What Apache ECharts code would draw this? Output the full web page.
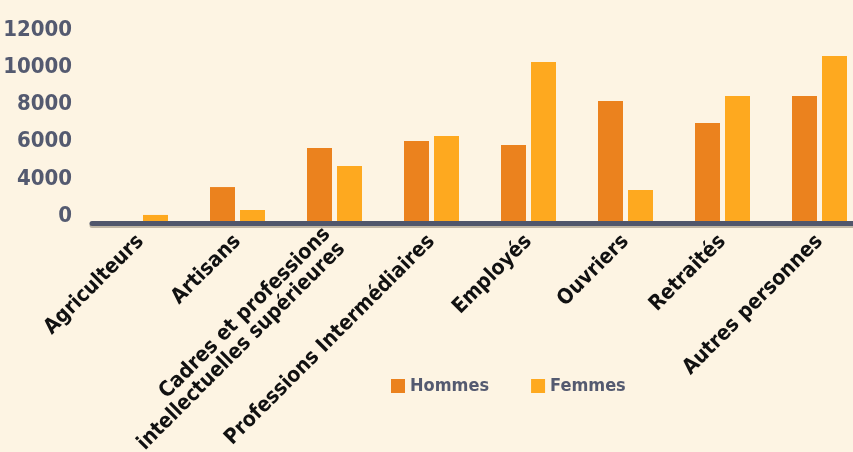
<!DOCTYPE html>
<html>
<head>
<meta charset="utf-8">
<script src="https://cdn.jsdelivr.net/npm/echarts@6/dist/echarts.min.js"></script>
<style>
html,body{margin:0;padding:0;background:#FDF4E3;}
#c{width:853px;height:452px;}
</style>
</head>
<body>
<div id="c"></div>
<script>
const categories = ['Agriculteurs', 'Artisans', 'Cadres et professions\nintellectuelles supérieures', 'Professions Intermédiaires', 'Employés', 'Ouvriers', 'Retraités', 'Autres personnes'];
const hommes = [0, 2190, 4710, 5160, 4900, 7740, 6320, 8060];
const femmes = [390, 710, 3550, 5480, 10260, 2000, 8060, 10650];
const yTickLabels = ['0', '4000', '6000', '8000', '10000', '12000'];
const seriesNames = ['Hommes', 'Femmes'];

const FONT = '"Liberation Sans Narrow", "DejaVu Sans Condensed", sans-serif';
const chart = echarts.init(document.getElementById('c'));
chart.setOption({
  backgroundColor: '#FDF4E3',
  animation: false,
  grid: { left: 92, right: -15, top: 35, height: 186, containLabel: false, outerBoundsMode: 'none' },
  legend: {
    left: 386, top: 372,
    itemWidth: 14, itemHeight: 14, itemGap: 42,
    icon: 'rect',
    textStyle: { fontFamily: FONT, fontWeight: 'bold', fontSize: 18, color: '#545A70' },
    data: seriesNames
  },
  xAxis: {
    type: 'category',
    data: categories,
    position: 'bottom',
    offset: 2.5,
    z: 5,
    axisLine: { onZero: false, lineStyle: { color: '#50566B', width: 5, shadowColor: 'rgba(80,70,50,0.35)', shadowOffsetY: 2, shadowBlur: 0 } },
    axisTick: { show: false },
    axisLabel: {
      rotate: 45, interval: 0, margin: 15,
      fontFamily: FONT, fontWeight: 'bold', fontSize: 21, color: '#111111', lineHeight: 21
    }
  },
  yAxis: {
    type: 'value', min: 0, max: 12000, interval: 2400,
    splitLine: { show: false },
    axisLine: { show: false }, axisTick: { show: false },
    axisLabel: {
      margin: 20,
      fontFamily: FONT, fontWeight: 'bold', fontSize: 22, color: '#545A70',
      verticalAlign: 'bottom', lineHeight: 10,
      formatter: function (v) { return yTickLabels[Math.round(v / 2400)]; }
    }
  },
  series: [
    { name: seriesNames[0], type: 'bar', data: hommes, barWidth: 25, barGap: '20%', itemStyle: { color: '#EB821E' } },
    { name: seriesNames[1], type: 'bar', data: femmes, barWidth: 25, barGap: '20%', itemStyle: { color: '#FEA91F' } }
  ]
});
</script>
</body>
</html>
